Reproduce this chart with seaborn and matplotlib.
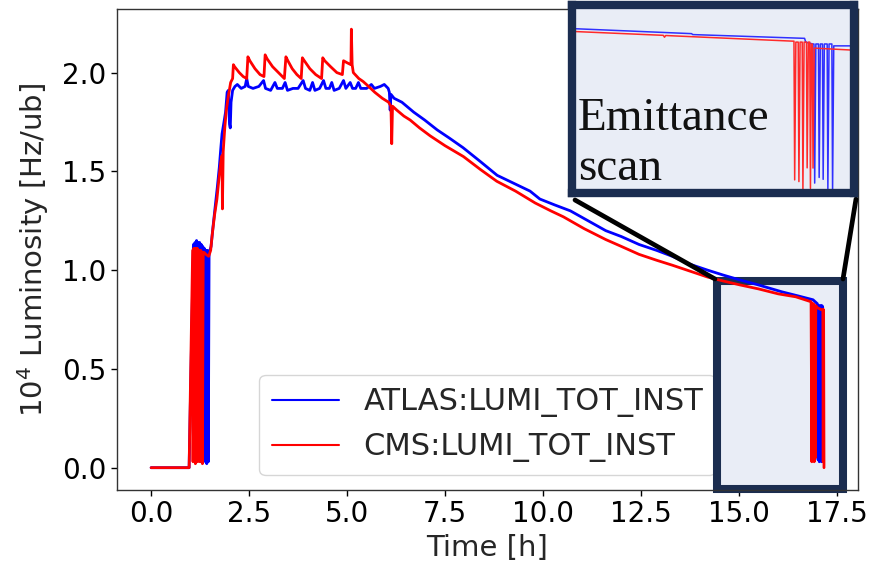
import matplotlib
matplotlib.use("Agg")
import matplotlib.pyplot as plt
from matplotlib.patches import Rectangle
from matplotlib.lines import Line2D
import seaborn as sns
import pandas as pd

# ---------------- data ----------------
atlas_time = [0.00, 0.97, 1.08, 1.10, 1.12, 1.14, 1.16, 1.18, 1.20, 1.22, 1.24, 1.26,
              1.28, 1.30, 1.32, 1.34, 1.36, 1.38, 1.40, 1.42, 1.44, 1.46, 1.48, 1.50,
              1.53, 1.58, 1.64, 1.69, 1.74, 1.78, 1.81, 1.86, 1.90, 1.94, 1.97, 2.00,
              2.02, 2.04, 2.08, 2.14, 2.20, 2.30, 2.40, 2.44, 2.48, 2.60, 2.75, 2.87,
              2.92, 3.05, 3.16, 3.22, 3.35, 3.42, 3.48, 3.62, 3.75, 3.88, 3.94, 4.05,
              4.12, 4.18, 4.30, 4.40, 4.46, 4.55, 4.61, 4.67, 4.80, 4.91, 4.97, 5.08,
              5.14, 5.22, 5.29, 5.35, 5.50, 5.62, 5.70, 5.85, 5.95, 6.05, 6.08, 6.10,
              6.12, 6.20, 6.40, 6.70, 6.98, 7.30, 7.60, 7.96, 8.40, 8.83, 9.25, 9.67,
              9.92, 10.30, 10.70, 11.15, 11.60, 12.00, 12.45, 12.90, 13.30, 13.75, 14.20,
              14.60, 15.03, 15.50, 16.10, 16.50, 16.89, 17.00, 17.02, 17.03, 17.05,
              17.06, 17.08, 17.09, 17.11, 17.12, 17.14]
atlas_lumi = [0.00, 0.00, 1.13, 0.05, 1.14, 0.03, 1.15, 0.06, 1.14, 0.04, 1.14, 0.03,
              1.13, 0.05, 1.12, 0.03, 1.11, 0.04, 1.10, 0.02, 1.10, 0.03, 1.09, 1.10,
              1.12, 1.22, 1.33, 1.42, 1.52, 1.62, 1.69, 1.75, 1.80, 1.90, 1.91, 1.74,
              1.72, 1.85, 1.91, 1.93, 1.94, 1.92, 1.93, 1.97, 1.93, 1.92, 1.93, 1.96,
              1.92, 1.91, 1.95, 1.92, 1.92, 1.95, 1.91, 1.92, 1.92, 1.96, 1.92, 1.91,
              1.95, 1.91, 1.92, 1.96, 1.92, 1.92, 1.95, 1.91, 1.92, 1.96, 1.92, 1.95,
              1.92, 1.92, 1.95, 1.92, 1.92, 1.94, 1.92, 1.93, 1.94, 1.92, 1.90, 1.81,
              1.89, 1.87, 1.85, 1.80, 1.76, 1.71, 1.67, 1.62, 1.55, 1.48, 1.44, 1.40,
              1.36, 1.33, 1.30, 1.25, 1.20, 1.17, 1.13, 1.10, 1.07, 1.03, 1.00,
              0.975, 0.95, 0.925, 0.89, 0.87, 0.85, 0.83, 0.04, 0.82, 0.03,
              0.82, 0.04, 0.82, 0.03, 0.82, 0.81]

cms_time = [0.00, 0.97, 1.06, 1.07, 1.09, 1.10, 1.12, 1.13, 1.15, 1.16, 1.18, 1.19,
            1.21, 1.22, 1.24, 1.25, 1.27, 1.28, 1.30, 1.31, 1.33, 1.35, 1.40, 1.47,
            1.52, 1.56, 1.62, 1.68, 1.73, 1.78, 1.81, 1.82, 1.84, 1.88, 1.92, 1.97,
            2.03, 2.08, 2.10, 2.13, 2.25, 2.35, 2.44, 2.47, 2.52, 2.65, 2.78, 2.88,
            2.91, 2.96, 3.10, 3.25, 3.40, 3.44, 3.49, 3.60, 3.72, 3.83, 3.86, 3.91,
            4.05, 4.20, 4.35, 4.38, 4.43, 4.58, 4.74, 4.88, 4.91, 5.00, 5.10, 5.11,
            5.13, 5.16, 5.30, 5.41, 5.55, 5.71, 5.90, 6.06, 6.12, 6.14, 6.16, 6.27,
            6.45, 6.61, 6.85, 7.12, 7.50, 7.97, 8.40, 8.82, 9.30, 9.80, 10.20, 10.52,
            11.05, 11.60, 12.00, 12.45, 12.90, 13.30, 13.75, 14.20, 14.60, 15.03,
            15.50, 16.00, 16.45, 16.84, 16.86, 16.87, 16.89, 16.90, 16.92, 16.93,
            16.95, 16.96, 17.00, 17.10, 17.14, 17.15, 17.16, 17.17]
cms_lumi = [0.00, 0.00, 1.10, 0.03, 1.11, 0.05, 1.11, 0.02, 1.11, 0.04, 1.11, 0.03,
            1.10, 0.05, 1.10, 0.03, 1.10, 0.04, 1.09, 0.02, 1.09, 1.09, 1.08, 1.07,
            1.10, 1.18, 1.28, 1.36, 1.46, 1.55, 1.58, 1.31, 1.60, 1.72, 1.81, 1.88,
            1.95, 1.97, 2.04, 2.03, 2.00, 1.98, 1.97, 2.08, 2.06, 2.02, 1.99, 1.98,
            2.09, 2.07, 2.03, 2.00, 1.97, 2.08, 2.06, 2.02, 1.99, 1.97, 2.075, 2.06,
            2.02, 1.99, 1.97, 2.075, 2.06, 2.03, 2.00, 1.99, 2.06, 2.05, 2.04, 2.22,
            2.04, 2.00, 1.97, 1.955, 1.93, 1.90, 1.87, 1.85, 1.83, 1.64, 1.83, 1.81,
            1.78, 1.76, 1.72, 1.68, 1.63, 1.575, 1.51, 1.45, 1.40, 1.34, 1.30, 1.27,
            1.21, 1.155, 1.12, 1.08, 1.05, 1.025, 0.995, 0.965, 0.945, 0.925,
            0.905, 0.88, 0.865, 0.84, 0.03, 0.83, 0.04, 0.83, 0.03, 0.82,
            0.05, 0.82, 0.81, 0.80, 0.80, 0.03, 0.80, 0.00]

# zoomed view of the emittance scan (inset)
inset_atlas_time = [15.00, 16.02, 16.03, 16.98, 16.99, 17.05,
                    17.060, 17.066, 17.076, 17.098, 17.104, 17.114,
                    17.132, 17.138, 17.148, 17.172, 17.178, 17.188,
                    17.212, 17.218, 17.228, 17.40]
inset_atlas_lumi = [0.872, 0.845, 0.840, 0.820, 0.800, 0.790,
                    0.79, 0.05, 0.79, 0.79, 0.08, 0.79,
                    0.79, 0.07, 0.79, 0.79, 0.02, 0.79,
                    0.79, 0.005, 0.78, 0.780]
inset_cms_time = [15.00, 15.78, 15.79, 15.80, 16.88,
                  16.890, 16.896, 16.906, 16.926, 16.932, 16.942,
                  16.960, 16.966, 16.976, 16.996, 17.002, 17.012,
                  17.024, 17.030, 17.038, 17.046, 17.052, 17.062, 17.40]
inset_cms_lumi = [0.857, 0.836, 0.826, 0.835, 0.805,
                  0.805, 0.067, 0.80, 0.80, 0.058, 0.80,
                  0.80, 0.013, 0.80, 0.80, 0.131, 0.80,
                  0.80, 0.022, 0.79, 0.79, 0.13, 0.768, 0.757]

series_names = ["ATLAS:LUMI_TOT_INST", "CMS:LUMI_TOT_INST"]
x_ticks = [0.0, 2.5, 5.0, 7.5, 10.0, 12.5, 15.0, 17.5]
y_ticks = [0.0, 0.5, 1.0, 1.5, 2.0]

# ---------------- figure ----------------
sns.set_style("ticks")
plt.rcParams["font.family"] = ["DejaVu Sans"]

W, H = 870, 567
fig = plt.figure(figsize=(W / 100, H / 100), dpi=100)
ax = fig.add_axes([117 / W, 1 - 490 / H, (857.7 - 117) / W, (490 - 9) / H])

df = pd.concat([
    pd.DataFrame({"Time": atlas_time, "Lumi": atlas_lumi, "Series": series_names[0]}),
    pd.DataFrame({"Time": cms_time, "Lumi": cms_lumi, "Series": series_names[1]}),
], ignore_index=True)
palette = {series_names[0]: "#0000ff", series_names[1]: "#ff0000"}

sns.lineplot(data=df, x="Time", y="Lumi", hue="Series", hue_order=series_names,
             palette=palette, estimator=None, sort=False, linewidth=2.0, ax=ax, zorder=3)

ax.set_xlim(-0.87, 18.03)
ax.set_ylim(-0.113, 2.322)
ax.set_xticks(x_ticks)
ax.set_yticks(y_ticks)
ax.tick_params(labelsize=20, colors="black", length=4, width=1)
for s in ax.spines.values():
    s.set_color("#333333")
    s.set_linewidth(1.0)
ax.set_xlabel("Time [h]", fontsize=21, labelpad=4)
ax.set_ylabel(r"10$^4$ Luminosity [Hz/ub]", fontsize=21, labelpad=8)

handles, labels = ax.get_legend_handles_labels()
leg = ax.legend(handles, labels, loc="lower center", fontsize=22, handlelength=2.2,
                frameon=True)
leg.set_zorder(1.5)
for ln in leg.get_lines():
    ln.set_linewidth(1.5)

navy = "#1b2d50"
fill = "#e9edf6"
# highlight box around the emittance scan in the main plot (under the lines)
box = Rectangle((716.6 / W, 1 - 488.7 / H), (842.8 - 716.6) / W, (488.7 - 281.3) / H,
                transform=fig.transFigure, facecolor=fill, edgecolor=navy,
                linewidth=5.8, clip_on=False, zorder=2)
ax.add_patch(box)

# connector lines
fig.add_artist(Line2D([575 / W, 715 / W], [1 - 200 / H, 1 - 279 / H],
                      transform=fig.transFigure, color="black", linewidth=3.4, zorder=4))
fig.add_artist(Line2D([856 / W, 843 / W], [1 - 199 / H, 1 - 279 / H],
                      transform=fig.transFigure, color="black", linewidth=3.4, zorder=4))

# inset (zoom of emittance scan)
iax = fig.add_axes([571.5 / W, 1 - 192.5 / H, (854 - 571.5) / W, (192.5 - 4.5) / H], zorder=5)
idf = pd.concat([
    pd.DataFrame({"Time": inset_atlas_time, "Lumi": inset_atlas_lumi, "Series": series_names[0]}),
    pd.DataFrame({"Time": inset_cms_time, "Lumi": inset_cms_lumi, "Series": series_names[1]}),
], ignore_index=True)
sns.lineplot(data=idf, x="Time", y="Lumi", hue="Series", hue_order=series_names,
             palette={series_names[0]: "#3030ff", series_names[1]: "#ff2a2a"},
             estimator=None, sort=False, linewidth=1.1, ax=iax, legend=False)
iax.set_xlim(15.0, 17.4)
iax.set_ylim(0.0, 1.0)
iax.set_facecolor(fill)
iax.set_xticks([])
iax.set_yticks([])
iax.set_xlabel("")
iax.set_ylabel("")
for s in iax.spines.values():
    s.set_visible(True)
    s.set_color(navy)
    s.set_linewidth(6.0)

fig.text(578 / W, 1 - 180 / H, "Emittance\nscan", fontsize=34,
         family=["Liberation Serif", "DejaVu Serif"], color="#111111",
         ha="left", va="baseline", linespacing=1.22, zorder=10)

fig.savefig("out.png", dpi=100)
